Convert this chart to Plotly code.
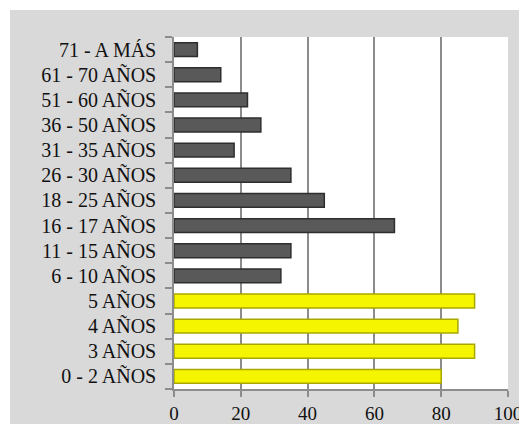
import plotly.graph_objects as go

categories = ["0 - 2 AÑOS", "3 AÑOS", "4 AÑOS", "5 AÑOS", "6 - 10 AÑOS", "11 - 15 AÑOS",
              "16 - 17 AÑOS", "18 - 25 AÑOS", "26 - 30 AÑOS", "31 - 35 AÑOS",
              "36 - 50 AÑOS", "51 - 60 AÑOS", "61 - 70 AÑOS", "71 - A MÁS"]
values = [80, 90, 85, 90, 32, 35, 66, 45, 35, 18, 26, 22, 14, 7]
x_ticks = [0, 20, 40, 60, 80, 100]

YELLOW, YELLOW_EDGE = "#f5f500", "#a8a800"
GRAY, GRAY_EDGE = "#595959", "#2e2e2e"
n_yellow = 4
colors = [YELLOW if i < n_yellow else GRAY for i in range(len(categories))]
edges = [YELLOW_EDGE if i < n_yellow else GRAY_EDGE for i in range(len(categories))]

# page body has an 8px margin; figure is sized to fill the rest of the window
W, H = 519, 416
ML, MR, MT, MB = 166, 19, 29, 35
pw, ph = W - ML - MR, H - MT - MB

fig = go.Figure(go.Bar(
    y=categories, x=values, orientation="h", width=0.55,
    marker=dict(color=colors, line=dict(color=edges, width=1.5)),
    hoverinfo="x+y",
))

font = dict(family="Liberation Serif, Times New Roman, serif", size=20, color="#111111")

# thin white frame strips (top and left) around the gray chart area
fig.add_shape(type="rect", xref="paper", yref="paper", layer="below",
              x0=-ML / pw - 0.05, x1=(2 - ML) / pw, y0=-MB / ph - 0.05, y1=(H - MB) / ph + 0.05,
              fillcolor="white", line_width=0)
fig.add_shape(type="rect", xref="paper", yref="paper", layer="below",
              x0=-ML / pw - 0.05, x1=(W - ML) / pw + 0.05, y0=(H - 2 - MB) / ph, y1=(H - MB) / ph + 0.05,
              fillcolor="white", line_width=0)

fig.update_layout(
    width=W, height=H,
    margin=dict(l=ML, r=MR, t=MT, b=MB, pad=0, autoexpand=False),
    paper_bgcolor="#d9d9d9", plot_bgcolor="white",
    showlegend=False, font=font,
    bargap=0.45,
)
fig.update_xaxes(range=[0, 100], tickvals=x_ticks, ticktext=[str(v) for v in x_ticks],
                 tickfont=dict(size=19),
                 showgrid=True, gridcolor="#8c8c8c", gridwidth=1.5,
                 showline=True, linecolor="#8c8c8c", linewidth=1.5,
                 ticks="outside", ticklen=6, tickcolor="#8c8c8c", tickwidth=1.5,
                 ticklabelstandoff=0, zeroline=False, fixedrange=True, automargin=False)
fig.update_yaxes(categoryorder="array", categoryarray=categories,
                 tickmode="array", tickvals=categories, ticktext=categories,
                 showline=True, linecolor="#8c8c8c", linewidth=1.5,
                 ticks="outside", ticklen=7, tickcolor="#8c8c8c", tickwidth=1.5,
                 tickson="boundaries", ticklabelstandoff=12, showgrid=False,
                 fixedrange=True, automargin=False)

fig.write_html("out.html")
